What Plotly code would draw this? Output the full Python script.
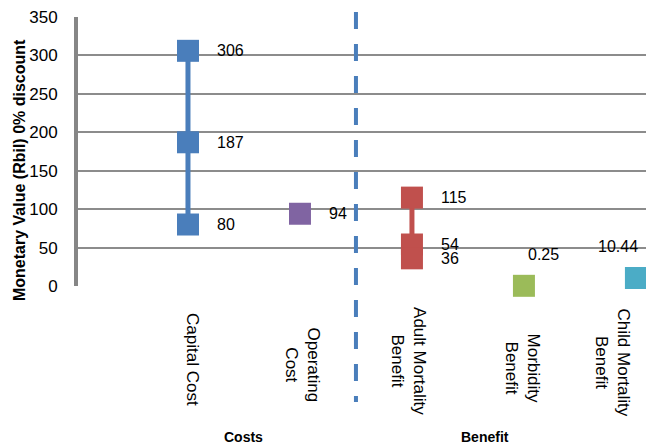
import plotly.graph_objects as go

categories = ["Capital Cost", "Operating<br>Cost", "Adult Mortality<br>Benefit",
              "Morbidity<br>Benefit", "Child Mortality<br>Benefit"]
capital_cost = [306, 187, 80]
operating_cost = [94]
adult_mortality = [115, 54, 36]
morbidity = [0.25]
child_mortality = [10.44]
y_ticks = [0, 50, 100, 150, 200, 250, 300, 350]

series = [capital_cost, operating_cost, adult_mortality, morbidity, child_mortality]
colors = ["#4A7EBB", "#8064A2", "#C0504D", "#9BBB59", "#4BACC6"]
# style: pixel offsets of the rotated category labels (x shift, y centre in px)
label_xshift = [5, 3.5, -3, -1.5, -22.5]
label_ycenter = [360, 365, 361, 368, 363]
FONT = "Liberation Sans, Arial, sans-serif"

T, B_PX, H = 17, 286, 448
PLOT_H = B_PX - T
W_L = 76
PLOT_W = 646 - W_L
X_MAX = 5.09


def py(pix):
    return (B_PX - pix) / PLOT_H


def px(pix):
    return (pix - W_L) / PLOT_W


fig = go.Figure()
for i, (vals, col) in enumerate(zip(series, colors)):
    xpos = i + 1
    fig.add_trace(go.Scatter(
        x=[xpos] * len(vals), y=vals, mode="lines+markers",
        line=dict(color=col, width=5),
        marker=dict(symbol="square", size=22, color=col),
        cliponaxis=False,
        showlegend=False, hoverinfo="skip"))

annotations = []
# data labels
for i, vals in enumerate(series):
    xpos = i + 1
    for v in vals:
        txt = f"{v:g}"
        if i == 3:
            a = dict(xshift=20, yshift=31, xanchor="center")
        elif i == 4:
            a = dict(xshift=-18, yshift=31, xanchor="center")
        else:
            a = dict(xshift=27, yshift=0, xanchor="left")
        annotations.append(dict(x=xpos, y=v, xref="x", yref="y", text=txt,
                                showarrow=False, yanchor="middle",
                                font=dict(family=FONT, size=16, color="#000"), **a))
# category labels
for i, c in enumerate(categories):
    annotations.append(dict(x=i + 1, y=py(label_ycenter[i]), xref="x", yref="paper", text=c,
                            textangle=90, showarrow=False, xanchor="center",
                            yanchor="middle", xshift=label_xshift[i],
                            font=dict(family=FONT, size=17, color="#000")))
annotations += [
    dict(x=px(243), y=py(437), xref="paper", yref="paper", text="<b>Costs</b>",
         xanchor="center", yanchor="middle",
         showarrow=False, font=dict(family=FONT, size=14, color="#000")),
    dict(x=px(485), y=py(437), xref="paper", yref="paper", text="<b>Benefit</b>",
         xanchor="center", yanchor="middle",
         showarrow=False, font=dict(family=FONT, size=14, color="#000")),
    dict(x=px(20), y=py(170), xref="paper", yref="paper",
         text="<b>Monetary Value (Rbil) 0% discount</b>", textangle=-90,
         xanchor="center", yanchor="middle",
         showarrow=False, font=dict(family=FONT, size=16, color="#000")),
]

fig.add_shape(type="line", xref="x", yref="paper", x0=2.5, x1=2.5, y0=py(12), y1=py(402),
              line=dict(color="#4A7EBB", width=4, dash="17px,15px"))
# left axis line
fig.add_shape(type="rect", xref="paper", yref="paper", x0=px(75.5), x1=px(78),
              y0=0, y1=1, line=dict(width=0), fillcolor="#868686", layer="above")

fig.update_layout(
    width=646, height=448,
    margin=dict(l=W_L, r=0, t=T, b=H - B_PX),
    paper_bgcolor="white", plot_bgcolor="white",
    annotations=annotations,
    xaxis=dict(range=[0, X_MAX], showgrid=False, zeroline=False,
               showticklabels=False, showline=False),
    yaxis=dict(range=[0, 350], tickvals=y_ticks, showgrid=True, gridcolor="#8C8C8C",
               gridwidth=2, zeroline=False, showline=True, linecolor="#868686",
               linewidth=2, ticks="", ticklabelstandoff=13,
               tickfont=dict(family=FONT, size=17, color="#000")),
)

fig.write_html("out.html", config={"displayModeBar": False},
               post_script="document.body.style.margin='0px';document.body.style.overflow='hidden';")
